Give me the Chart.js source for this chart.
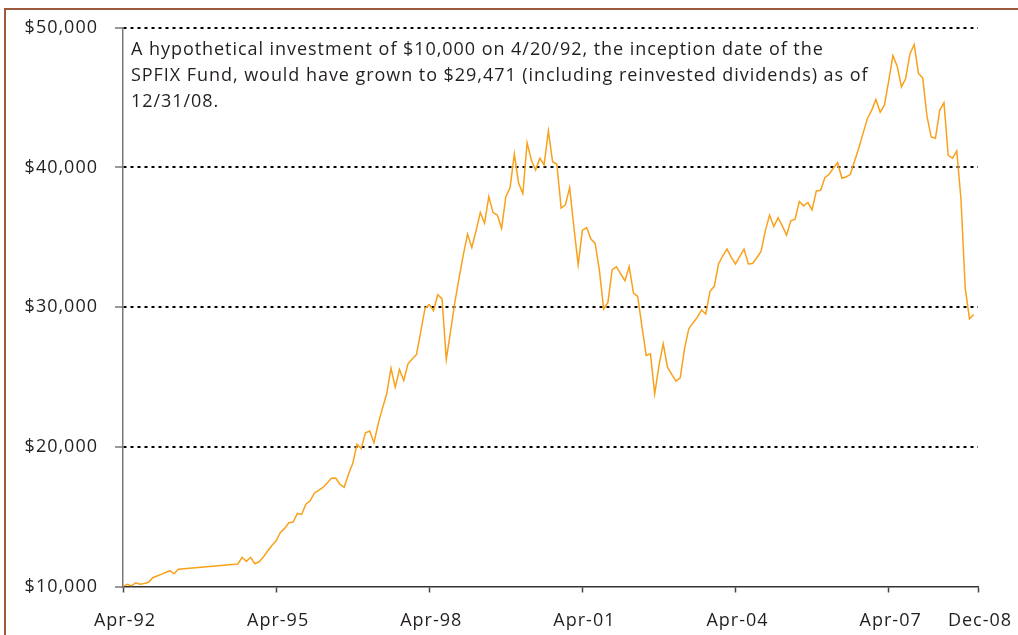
<!DOCTYPE html>
<html>
<head>
<meta charset="utf-8">
<script src="https://cdn.jsdelivr.net/npm/chart.js@4.4.1/dist/chart.umd.min.js"></script>
<style>
  body { margin: 0; background: #fff; }
</style>
</head>
<body>
<canvas id="myChart" width="1018" height="635"></canvas>
<script>
// month offsets from Apr-92; value of the $10,000 investment (null = no data point)
const values = [
  10000, 10160, 10040, 10270, 10160, 10210, 10300, 10630, 10750, 10870, 11000, 11130, 10910, 11230,
  null, null, null, null, null, null, null, null, null, null, null, null, null,
  11610, 12090, 11800, 12090, 11630, 11770, 12110, 12540, 12940, 13270,
  13870, 14160, 14560, 14610, 15230, 15160, 15890, 16130, 16700, 16890,
  17090, 17410, 17750, 17760, 17320, 17110, 18040, 18800, 20180, 19870,
  21010, 21130, 20300, 21660, 22750, 23800, 25630, 24270, 25540, 24750,
  25940, 26290, 26610, 28250, 29910, 30180, 29750, 30890, 30590, 26250,
  28250, 30320, 32060, 33750, 35230, 34270, 35460, 36770, 36010, 37910,
  36770, 36590, 35630, 37910, 38560, 40960, 38890, 38130, 41770, 40540,
  39820, 40660, 40180, 42610, 40410, 40230, 37090, 37320, 38560, 35700,
  33040, 35510, 35700, 34870, 34560, 32610, 29870, 30340, 32680, 32890,
  32390, 31890, 32910, 31010, 30770, 28610, 26540, 26660, 23800, 25820,
  27370, 25700, 25180, 24700, 24940, 27010, 28440, 28870, 29270, 29800,
  29510, 31130, 31490, 33090, 33680, 34160, 33560, 33090, 33630, 34160,
  33090, 33130, 33540, 33990, 35460, 36590, 35770, 36410, 35820, 35160,
  36180, 36300, 37560, 37250, 37490, 36960, 38320, 38370, 39270, 39510,
  39960, 40340, 39230, 39320, 39510, 40460, 41410, 42460, 43510, 44090,
  44870, 43960, 44460, 46180, 48010, 47250, 45770, 46370, 48130, 48800,
  46730, 46410, 43680, 42180, 42090, 44090, 44630, 40870, 40660, 41180,
  37730, 31340, 29160, 29471
];

const tickMonths = [0, 36, 72, 108, 144, 180, 201];
const tickLabels = ['Apr-92', 'Apr-95', 'Apr-98', 'Apr-01', 'Apr-04', 'Apr-07', 'Dec-08'];
const yTicks = [10000, 20000, 30000, 40000, 50000];

const noteLines = [
  'A hypothetical investment of $10,000 on 4/20/92, the inception date of the',
  'SPFIX Fund, would have grown to $29,471 (including reinvested dividends) as of',
  '12/31/08.'
];

const points = values
  .map((v, i) => ({x: i, y: v}))
  .filter(p => p.y !== null);

const fontFamily = '"Open Sans", "DejaVu Sans", sans-serif';

const framePlugin = {
  id: 'frame',
  beforeDraw(chart) {
    const c = chart.ctx;
    c.save();
    c.strokeStyle = '#9b5a3c';
    c.lineWidth = 2;
    c.beginPath();
    c.moveTo(5, chart.height);
    c.lineTo(5, 9);
    c.lineTo(chart.width, 9);
    c.stroke();
    c.restore();
    // the original face is wider than Open Sans
    c.letterSpacing = '1px';
  },
  afterDraw(chart) {
    const c = chart.ctx;
    c.save();
    c.font = '18px ' + fontFamily;
    c.letterSpacing = '0.95px';
    c.fillStyle = '#231f20';
    c.textAlign = 'left';
    c.textBaseline = 'alphabetic';
    noteLines.forEach((t, i) => {
      c.fillText(t, 131, 55 + i * 26);
    });
    c.restore();
    c.letterSpacing = '0px';
  }
};

const ctx = document.getElementById('myChart').getContext('2d');

const myChart = new Chart(ctx, {
  type: 'line',
  data: {
    datasets: [{
      data: points,
      borderColor: '#f9a11b',
      borderWidth: 1.5,
      pointRadius: 0,
      tension: 0,
      fill: false
    }]
  },
  options: {
    responsive: false,
    maintainAspectRatio: false,
    animation: false,
    layout: {
      padding: {top: 27, right: 40, bottom: 0, left: 0}
    },
    scales: {
      x: {
        type: 'linear',
        min: 0,
        max: 201,
        afterBuildTicks: scale => {
          scale.ticks = tickMonths.map(v => ({value: v}));
        },
        afterFit: scale => {
          scale.height = 48.5;
          scale.paddingLeft = 0;
          scale.paddingRight = 0;
        },
        ticks: {
          autoSkip: false,
          maxRotation: 0,
          padding: 18,
          labelOffset: 2,
          color: '#231f20',
          font: {family: fontFamily, size: 18},
          callback: (value, index) => tickLabels[index]
        },
        grid: {
          drawOnChartArea: false,
          drawTicks: true,
          tickLength: 6,
          tickColor: '#444',
          tickWidth: 1.5
        },
        border: {color: '#333', width: 1.5}
      },
      y: {
        min: 10000,
        max: 50000,
        afterBuildTicks: scale => {
          scale.ticks = yTicks.map(v => ({value: v}));
        },
        afterFit: scale => {
          scale.width = 123;
        },
        ticks: {
          padding: 17,
          color: '#231f20',
          font: {family: fontFamily, size: 18},
          callback: value => '$' + value.toLocaleString('en-US')
        },
        grid: {
          color: c => (c.tick && c.tick.value === 10000) ? 'rgba(0,0,0,0)' : '#000',
          lineWidth: 2,
          tickLength: 8,
          tickColor: '#777',
          tickWidth: 1.5
        },
        border: {color: '#777', width: 1.5, dash: [3, 4]}
      }
    },
    plugins: {
      legend: {display: false},
      tooltip: {enabled: false}
    }
  },
  plugins: [framePlugin]
});
</script>
</body>
</html>
